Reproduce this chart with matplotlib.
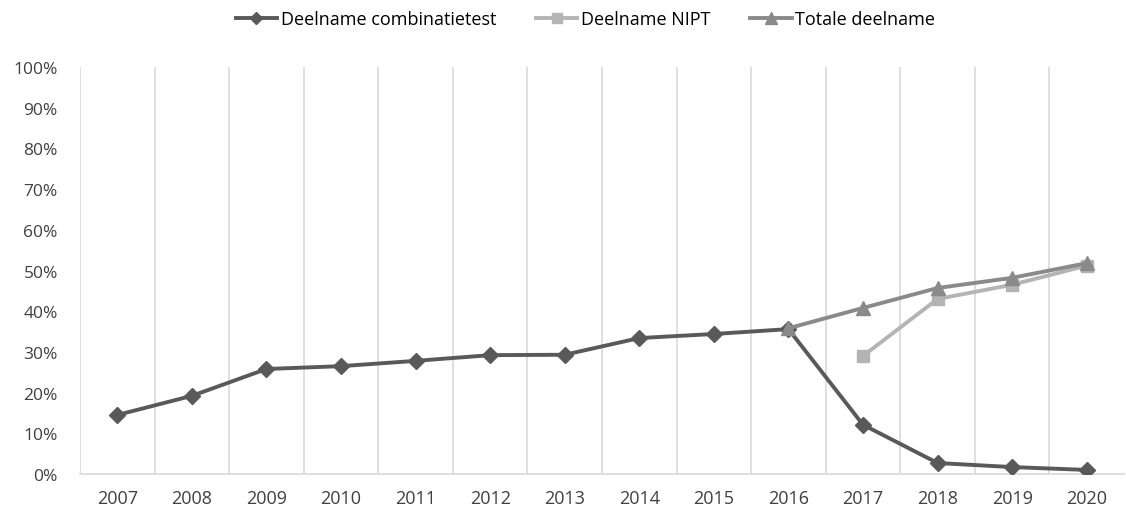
import numpy as np
import matplotlib.pyplot as plt
from matplotlib.ticker import FuncFormatter

# Data (participation in %)
years = ['2007', '2008', '2009', '2010', '2011', '2012', '2013',
         '2014', '2015', '2016', '2017', '2018', '2019', '2020']
combinatietest = [14.5, 19.2, 25.8, 26.5, 27.8, 29.2, 29.3,
                  33.4, 34.4, 35.6, 12.1, 2.7, 1.7, 1.0]
nipt_years = ['2017', '2018', '2019', '2020']
nipt = [29.0, 43.0, 46.5, 51.2]
totaal_years = ['2016', '2017', '2018', '2019', '2020']
totaal = [35.8, 40.8, 45.7, 48.2, 51.8]

plt.rcParams['font.family'] = ['Open Sans', 'DejaVu Sans']

fig = plt.figure(figsize=(11.26, 5.10), dpi=100)
ax = fig.add_axes([80 / 1126, 35 / 510, 1044 / 1126, 407 / 510])

x = np.arange(len(years))
idx = {y: i for i, y in enumerate(years)}

ax.plot(x, combinatietest, color='#595959', linewidth=2.8, marker='D',
        markersize=8, label='Deelname combinatietest', zorder=3)
ax.plot([idx[y] for y in nipt_years], nipt, color='#b4b4b4', linewidth=2.8,
        marker='s', markersize=9, label='Deelname NIPT', zorder=4)
ax.plot([idx[y] for y in totaal_years], totaal, color='#8a8a8a', linewidth=2.8,
        marker='^', markersize=10, label='Totale deelname', zorder=5)

# vertical gridlines between categories
for b in np.arange(-0.5, len(years) - 0.5, 1.0):
    ax.axvline(b, color='#d9d9d9', linewidth=1.2, zorder=1)

ax.set_xlim(-0.5, len(years) - 0.5)
ax.set_ylim(0, 100)
ax.set_xticks(x)
ax.set_xticklabels(years, fontsize=13, color='#404040')
ax.set_yticks(np.arange(0, 101, 10))
ax.yaxis.set_major_formatter(FuncFormatter(lambda v, p: f'{v:.0f}%'))
ax.tick_params(axis='y', labelsize=12.5, colors='#404040', length=0, pad=16)
ax.tick_params(axis='x', length=0, pad=11)

for s in ['top', 'right', 'left']:
    ax.spines[s].set_visible(False)
ax.spines['bottom'].set_color('#d9d9d9')
ax.spines['bottom'].set_linewidth(1.2)

fig.legend(loc='upper center', bbox_to_anchor=(0.52, 1.01), ncol=3,
           frameon=False, fontsize=13, handlelength=2.3, handletextpad=0.2,
           columnspacing=2.2, markerscale=0.8)

plt.savefig('out.png', dpi=100)
